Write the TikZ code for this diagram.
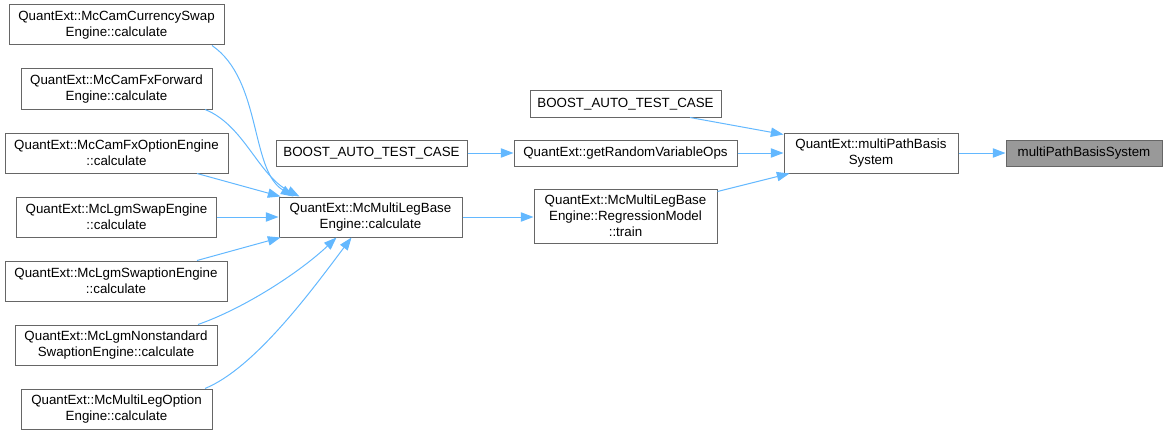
\documentclass[tikz,border=0pt]{standalone}
\usepackage{fontspec}
\setmainfont{Liberation Sans}
\usepackage{tikz}
\usetikzlibrary{arrows.meta}
\newlength\px
\setlength\px{0.75pt}
\definecolor{edgeblue}{HTML}{63B8FF}
\definecolor{boxline}{HTML}{666666}
\definecolor{boxgray}{HTML}{999999}

\begin{document}
\begin{tikzpicture}[x=0.75pt,y=-0.75pt,->,>={Triangle[length=9.5pt,width=7pt]},
    fn/.style={draw=boxline,line width=0.75pt,fill=white,inner sep=0pt,align=center,
      font=\fontsize{10}{12}\selectfont,minimum height=40\px},
    fnsmall/.style={fn,minimum height=26\px},
    fncur/.style={fnsmall,fill=boxgray},
    call/.style={draw=edgeblue,line width=0.75pt}]
  \useasboundingbox (0,0) rectangle (1167,435);
  % callers of McMultiLegBaseEngine::calculate
  \node[fn,minimum width=215\px] (camccy) at (116.5,25) {QuantExt::McCamCurrencySwap\\Engine::calculate};
  \node[fn,minimum width=191\px] (camfxf) at (116.5,89) {QuantExt::McCamFxForward\\Engine::calculate};
  \node[fn,minimum width=223\px] (camfxo) at (116.5,153) {QuantExt::McCamFxOptionEngine\\::calculate};
  \node[fn,minimum width=200\px] (lgmswap) at (116.5,217) {QuantExt::McLgmSwapEngine\\::calculate};
  \node[fn,minimum width=222\px] (lgmswpt) at (116,281) {QuantExt::McLgmSwaptionEngine\\::calculate};
  \node[fn,minimum width=202\px] (lgmnonstd) at (116,345) {QuantExt::McLgmNonstandard\\SwaptionEngine::calculate};
  \node[fn,minimum width=191\px] (mlopt) at (116.5,409) {QuantExt::McMultiLegOption\\Engine::calculate};
  % middle
  \node[fnsmall,minimum width=191\px] (boostA) at (371.5,153) {BOOST\_AUTO\_TEST\_CASE};
  \node[fn,minimum width=183\px] (mlbcalc) at (370.5,217) {QuantExt::McMultiLegBase\\Engine::calculate};
  \node[fnsmall,minimum width=191\px] (boostB) at (625.5,104) {BOOST\_AUTO\_TEST\_CASE};
  \node[fnsmall,minimum width=223\px] (getrvops) at (625.5,153) {QuantExt::getRandomVariableOps};
  \node[fn,minimum width=183\px,minimum height=54\px] (regtrain) at (625.5,216) {QuantExt::McMultiLegBase\\Engine::RegressionModel\\::train};
  % right
  \node[fn,minimum width=174\px] (qempbs) at (871,153) {QuantExt::multiPathBasis\\System};
  \node[fncur,minimum width=156\px] (mpbs) at (1084,153) {multiPathBasisSystem};

  \draw[call] ([xshift=95.5\px]camccy.south) .. controls (262,80) and (250,170) .. ([xshift=15\px]mlbcalc.north west);
  \draw[call] ([xshift=88.5\px]camfxf.south) .. controls (244,125) and (258,175) .. ([xshift=21\px]mlbcalc.north west);
  \draw[call] ([xshift=80.5\px]camfxo.south) -- ([xshift=2\px]mlbcalc.north west);
  \draw[call] (lgmswap.east) -- (mlbcalc.west |- lgmswap.east);
  \draw[call] ([xshift=81\px]lgmswpt.north) -- ([xshift=2\px]mlbcalc.south west);
  \draw[call] ([xshift=82\px]lgmnonstd.north) .. controls (245,308) and (300,272) .. ([xshift=58\px]mlbcalc.south west);
  \draw[call] ([xshift=88.5\px]mlopt.north) .. controls (255,368) and (312,290) .. ([xshift=73\px]mlbcalc.south west);
  \draw[call] (boostA) -- (getrvops);
  \draw[call] (mlbcalc.east) -- (regtrain.west |- mlbcalc.east);
  \draw[call] ([xshift=64.5\px]boostB.south) -- ([yshift=-2\px]qempbs.north west);
  \draw[call] (getrvops) -- (qempbs);
  \draw[call] ([yshift=-3\px]regtrain.north east) -- ([xshift=6\px]qempbs.south west);
  \draw[call] (qempbs) -- (mpbs);
\end{tikzpicture}
\end{document}
